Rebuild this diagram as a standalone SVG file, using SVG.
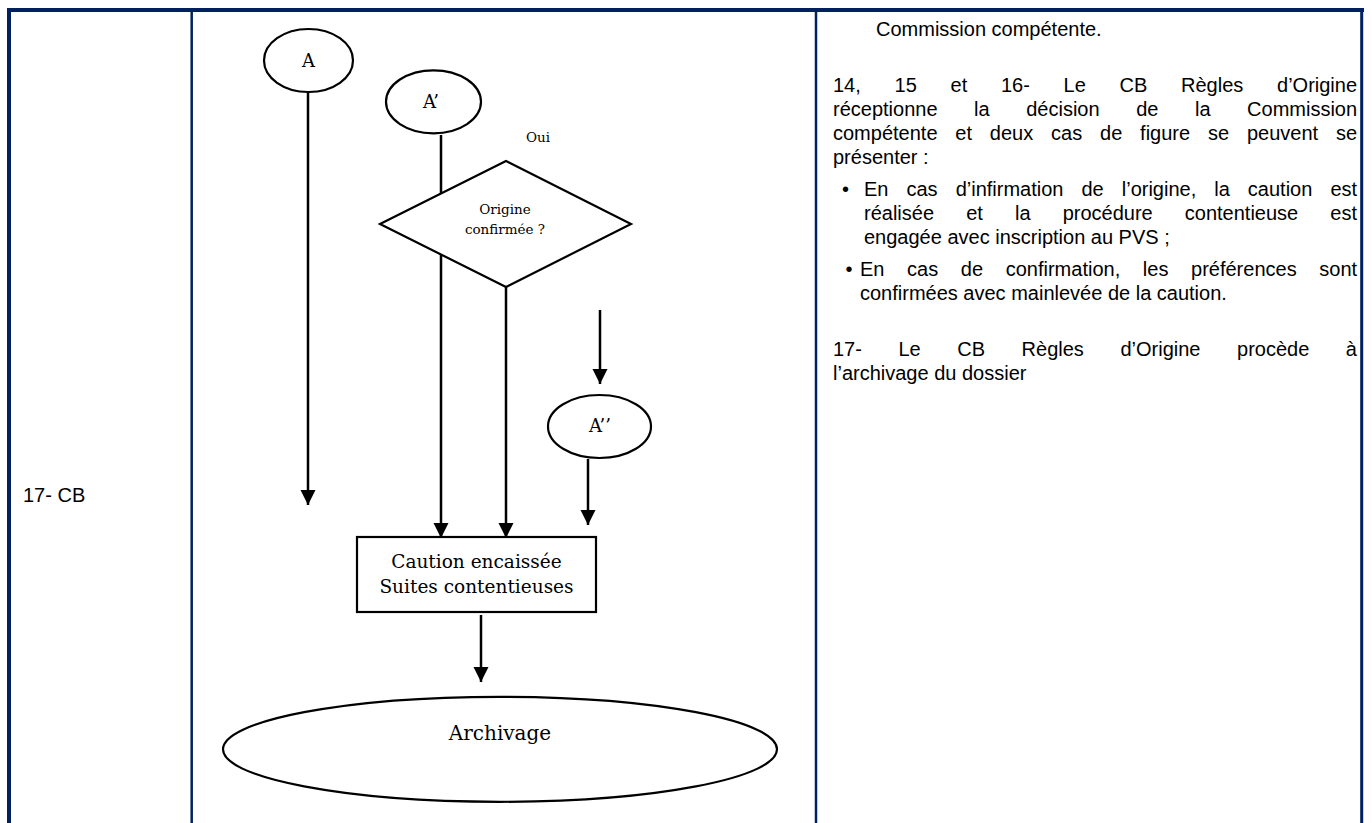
<svg xmlns="http://www.w3.org/2000/svg" width="1372" height="823" viewBox="0 0 1372 823">
<style>
.tb{stroke:#002060;fill:none}
.node{fill:#fff;stroke:#000;stroke-width:2.2}
.fl{font-family:"DejaVu Serif","Liberation Serif",serif;fill:#000;text-anchor:middle}
.tx{font-family:"Liberation Sans",Arial,sans-serif;font-size:20px;fill:#000}
.bul{font-family:"Liberation Sans",Arial,sans-serif;font-size:20px;fill:#000}
.cn{stroke:#000;stroke-width:2.5;fill:none;marker-end:url(#ah)}
</style>
<defs>
<marker id="ah" markerUnits="userSpaceOnUse" markerWidth="16" markerHeight="16" refX="15" refY="7.5" orient="auto">
<path d="M0,0 L15,7.5 L0,15 Z" fill="#000"/>
</marker>
</defs>
<rect width="1372" height="823" fill="#fff"/>
<g id="table">
<line class="tb" x1="7" y1="10" x2="1364" y2="10" stroke-width="4"/>
<line class="tb" x1="9" y1="8" x2="9" y2="823" stroke-width="4"/>
<line class="tb" x1="191.7" y1="10" x2="191.7" y2="823" stroke-width="2.5"/>
<line class="tb" x1="816" y1="10" x2="816" y2="823" stroke-width="2.5"/>
<line class="tb" x1="1361.7" y1="8" x2="1361.7" y2="823" stroke-width="3"/>
</g>
<g id="actor"><text class="tx" x="23" y="502">17- CB</text></g>
<g id="connectors">
<path class="cn" d="M308,92 V505"/>
<path class="cn" d="M441,135 V193.5 M441,254.5 V538"/>
<path class="cn" d="M506,287 V538"/>
<path class="cn" d="M600,310 V384"/>
<path class="cn" d="M588,459 V525"/>
<path class="cn" d="M481,615 V682"/>
</g>
<g id="nodeA"><ellipse class="node" cx="308.5" cy="60.5" rx="44.5" ry="31.5"/><text class="fl" x="308.5" y="67" font-size="18">A</text></g>
<g id="nodeA1"><ellipse class="node" cx="433.5" cy="101.8" rx="47.5" ry="31.5"/><text class="fl" x="431" y="108" font-size="18">A’</text></g>
<g id="oui"><text class="fl" x="538" y="142" font-size="13.5">Oui</text></g>
<g id="decision"><polygon class="node" points="380,224 506,161 631,224 506,287"/><text class="fl" x="505" y="214" font-size="13.5">Origine</text><text class="fl" x="505" y="234" font-size="13.5">confirmée ?</text></g>
<g id="nodeA2"><ellipse class="node" cx="599.5" cy="426.5" rx="51.5" ry="31.5"/><text class="fl" x="600" y="432" font-size="18">A’’</text></g>
<g id="box"><rect class="node" x="357" y="537" width="239" height="75"/><text class="fl" x="476.5" y="568" font-size="18.5">Caution encaissée</text><text class="fl" x="476.5" y="593" font-size="18.5">Suites contentieuses</text></g>
<g id="archive"><ellipse class="node" cx="500" cy="749.3" rx="277" ry="52.5"/><text class="fl" x="500" y="740" font-size="20">Archivage</text></g>
<g id="description">
<text class="tx" x="876" y="36">Commission compétente.</text>
<text class="tx" x="833" y="92" word-spacing="28.17">14, 15 et 16- Le CB Règles d’Origine</text>
<text class="tx" x="833" y="116" word-spacing="31">réceptionne la décision de la Commission</text>
<text class="tx" x="833" y="140" word-spacing="12.28">compétente et deux cas de figure se peuvent se</text>
<text class="tx" x="833" y="164">présenter :</text>
<text class="bul" x="842" y="196">•</text>
<text class="tx" x="864" y="196" word-spacing="12.47">En cas d’infirmation de l’origine, la caution est</text>
<text class="tx" x="864" y="220" word-spacing="26.56">réalisée et la procédure contentieuse est</text>
<text class="tx" x="864" y="244">engagée avec inscription au PVS ;</text>
<text class="bul" x="845.5" y="276">•</text>
<text class="tx" x="860" y="276" word-spacing="17.07">En cas de confirmation, les préférences sont</text>
<text class="tx" x="860" y="300">confirmées avec mainlevée de la caution.</text>
<text class="tx" x="833" y="356" word-spacing="31">17- Le CB Règles d’Origine procède à</text>
<text class="tx" x="833" y="380">l’archivage du dossier</text>
</g>
</svg>
